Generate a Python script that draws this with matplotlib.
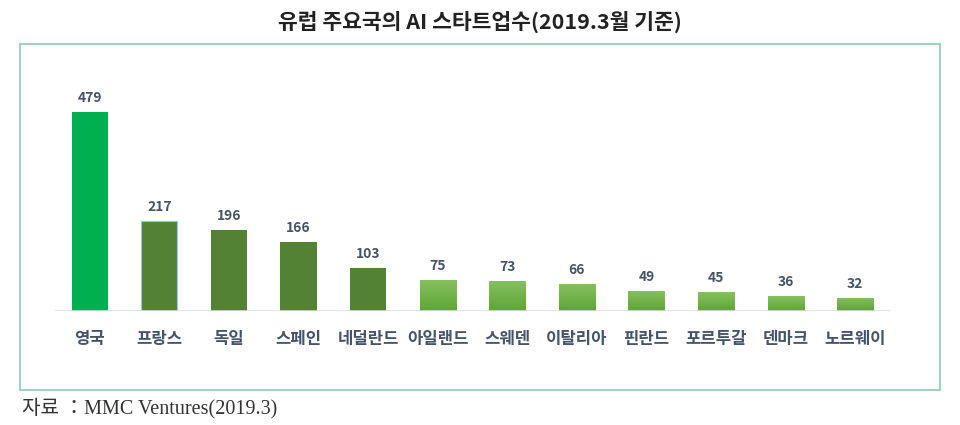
import numpy as np
import matplotlib.pyplot as plt
from matplotlib.patches import Rectangle
from matplotlib.colors import LinearSegmentedColormap

plt.rcParams['font.family'] = ['Noto Sans CJK KR', 'DejaVu Sans']

countries = ["영국", "프랑스", "독일", "스페인", "네덜란드", "아일랜드",
             "스웨덴", "이탈리아", "핀란드", "포르투갈", "덴마크", "노르웨이"]
counts = [479, 217, 196, 166, 103, 75, 73, 66, 49, 45, 36, 32]
title = "유럽 주요국의 AI 스타트업수(2019.3월 기준)"
source = "자료 ：MMC Ventures(2019.3)"

W, H = 960, 425
fig = plt.figure(figsize=(W / 100, H / 100), dpi=100)

# outer frame
fig.patches.append(Rectangle((20 / W, 1 - 390 / H), 920 / W, 346 / H,
                             transform=fig.transFigure, fill=False,
                             edgecolor="#9fd3c0", linewidth=1.5))

# axes: baseline at y=311px, x from 55 to 890px
y_top = 580
ax_h = y_top * 199 / 479
ax = fig.add_axes([55 / W, 1 - 311 / H, 835 / W, ax_h / H])

colors = ["#00b050"] + ["#548235"] * 4 + ["#6cae42"] * 7
x = np.arange(len(countries))
bars = ax.bar(x, counts, width=0.52, color=colors, zorder=2)
bars[1].set_edgecolor("#9dc3e6")
bars[1].set_linewidth(0.8)

# light gradient on the smaller bars
cmap = LinearSegmentedColormap.from_list("g", ["#5fa534", "#86c161"])
grad = np.linspace(0, 1, 50).reshape(-1, 1)
for b in bars[5:]:
    im = ax.imshow(grad, cmap=cmap, aspect="auto", origin="lower",
                   extent=[b.get_x(), b.get_x() + b.get_width(), 0, b.get_height()],
                   zorder=3)
    im.set_clip_path(b)
ax.set_xlim(-0.5, len(countries) - 0.5)
ax.set_ylim(0, y_top)

for xi, v in zip(x, counts):
    ax.annotate(str(v), (xi, v), xytext=(0, 5), textcoords="offset points",
                ha="center", va="bottom", fontsize=10, fontweight="bold",
                color="#44546a")

ax.axhline(0, color="#d9dde8", linewidth=1.2, zorder=4)
for s in ax.spines.values():
    s.set_visible(False)
ax.set_yticks([])
ax.set_xticks(x)
ax.set_xticklabels(countries, fontsize=12, fontweight="bold", color="#44546a")
ax.tick_params(axis="x", length=0, pad=14)

fig.text(0.5, 1 - 22 / H, title, ha="center", va="center", fontsize=15.5,
         fontweight="bold", color="#222222")
fig.text(22 / W, 1 - 408 / H, source, ha="left", va="center", fontsize=14.5,
         color="#333333", family=["Liberation Serif", "Noto Sans CJK KR"])

fig.savefig("out.png", dpi=100)
